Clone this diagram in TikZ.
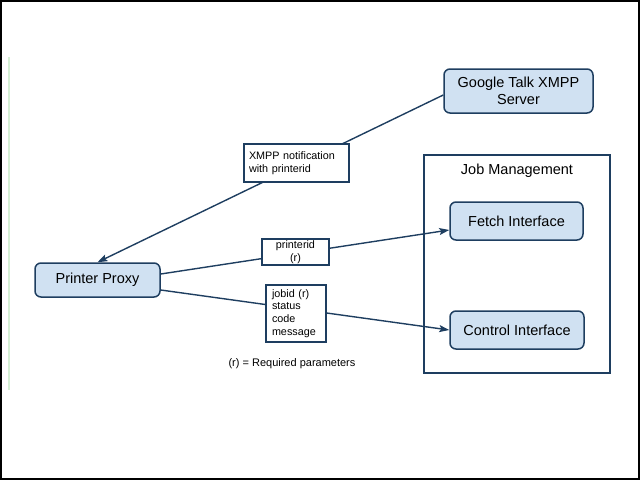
\documentclass[tikz,border=0pt]{standalone}
\usepackage{fontspec}
\setmainfont{Liberation Sans}
\usetikzlibrary{arrows.meta,positioning}
\definecolor{boxfill}{RGB}{208,225,242}
\definecolor{navy}{RGB}{30,62,96}
\definecolor{railgreen}{RGB}{214,240,214}

\begin{document}
\begin{tikzpicture}[x=1pt, y=-1pt,
  comp/.style={draw=navy, fill=boxfill, line width=1.5pt, rounded corners=6pt,
               align=center, inner sep=0pt, font=\fontsize{14.5}{17.5}\selectfont},
  lbl/.style={draw=navy, fill=white, line width=1.3pt, inner xsep=5pt, inner ysep=0pt,
              font=\fontsize{10.8}{12.8}\selectfont},
  link/.style={draw=navy, line width=1.4pt, -{Stealth[length=10pt,width=7pt,inset=2pt]}},
]
\useasboundingbox (0,0) rectangle (640,480);
\draw[line width=1.5pt] (1,1) rectangle (639,479);
\draw[railgreen, line width=2pt] (9,57) -- (9,390);

% job management group
\node[draw=navy, line width=1.5pt, minimum width=186pt, minimum height=218pt] (jobs) at (517,264) {};
\node[font=\fontsize{14.5}{17}\selectfont] (jobstitle) at (517,171) {Job Management};

\node[comp, minimum width=149pt, minimum height=44pt] (google) at (518.5,91) {Google Talk XMPP\\Server};
\node[comp, minimum width=133pt, minimum height=38pt] (fetch)   at (516.5,221) {Fetch Interface};
\node[comp, minimum width=134pt, minimum height=38pt] (control) at (517,330)   {Control Interface};
\node[comp, minimum width=125pt, minimum height=34pt] (proxy)   at (97.5,280)  {Printer Proxy};

\draw[link] ([yshift=-4pt]google.west) -- (proxy.north);
\draw[link] ([yshift=6pt]proxy.east) -- ([yshift=-9pt]fetch.west);
\draw[link] ([yshift=-10pt]proxy.east) -- (control.west);

% parameter labels
\node[lbl, text width=95pt, minimum height=38pt, align=left] (notif) at (296.5,163)
  {XMPP notification\\with printerid};
\node[lbl, minimum width=67pt, minimum height=26pt, align=center] (fetchargs) at (295.5,252)
  {printerid\\(r)};
\node[lbl, inner xsep=6pt, text width=48pt, minimum height=57pt, align=left] (ctrlargs) at (296,313.5)
  {jobid (r)\\status\\code\\message};
\node[font=\fontsize{11}{13}\selectfont] (legend) at (292,364) {(r) = Required parameters};
\end{tikzpicture}
\end{document}
